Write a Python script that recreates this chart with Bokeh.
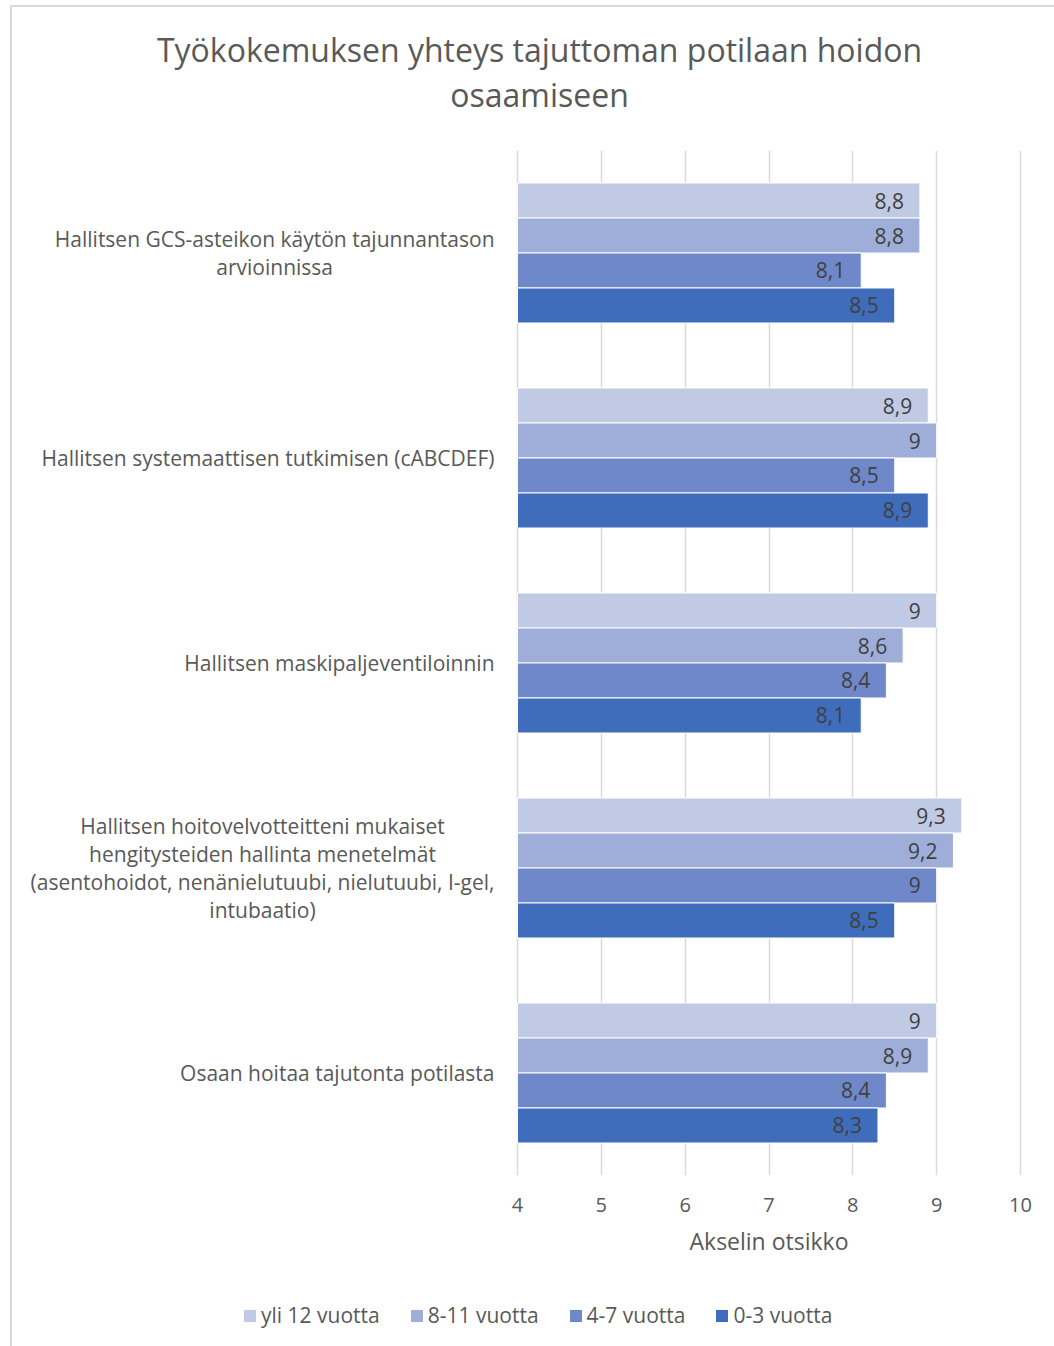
from bokeh.plotting import figure
from bokeh.layouts import column
from bokeh.models import (FactorRange, Range1d, ColumnDataSource, Legend, LegendItem,
                          FixedTicker, Title)
from bokeh.core.properties import value
from bokeh.transform import dodge
from bokeh.embed import file_html
from bokeh.resources import INLINE

# Statements (top to bottom) and experience groups
categories = [
    "Hallitsen GCS-asteikon käytön tajunnantason\narvioinnissa",
    "Hallitsen systemaattisen tutkimisen (cABCDEF)",
    "Hallitsen maskipaljeventiloinnin",
    "Hallitsen hoitovelvotteitteni mukaiset\nhengitysteiden hallinta menetelmät\n(asentohoidot, nenänielutuubi, nielutuubi, I-gel,\nintubaatio)",
    "Osaan hoitaa tajutonta potilasta",
]
series_names = ["yli 12 vuotta", "8-11 vuotta", "4-7 vuotta", "0-3 vuotta"]
series_colors = ["#C1CAE5", "#9FAED9", "#6E88CA", "#3F6DBB"]

yli_12 = [8.8, 8.9, 9.0, 9.3, 9.0]
v_8_11 = [8.8, 9.0, 8.6, 9.2, 8.9]
v_4_7 = [8.1, 8.5, 8.4, 9.0, 8.4]
v_0_3 = [8.5, 8.9, 8.1, 8.5, 8.3]
series_values = [yli_12, v_8_11, v_4_7, v_0_3]

x_ticks = [4, 5, 6, 7, 8, 9, 10]

title_text = "Työkokemuksen yhteys tajuttoman potilaan hoidon\nosaamiseen"
axis_title = "Akselin otsikko"

FONT = "Open Sans"
GREY = "#595959"
W = 1042


def bare(fig):
    fig.outline_line_color = None
    fig.background_fill_color = "white"
    fig.border_fill_color = "white"
    return fig


# --- title strip -----------------------------------------------------------
head = bare(figure(width=W, height=133, output_backend="svg", toolbar_location=None,
                   x_range=Range1d(0, 1), y_range=Range1d(0, 133),
                   x_axis_type=None, y_axis_type=None,
                   min_border=0, min_border_left=0, min_border_right=0,
                   min_border_top=0, min_border_bottom=0))
head.xgrid.visible = False
head.ygrid.visible = False
head.text(x=[0.5], y=[68.5], text=[title_text], text_align="center", anchor="center",
          text_line_height=1.05, text_font=value(FONT), text_font_size="32px",
          text_color=GREY)

# --- bar chart ------------------------------------------------------------
# The frame also holds the statement texts to the left of the value axis,
# so the x range runs below 4 and a little past 10.
p = bare(figure(width=W, height=1150, output_backend="svg", toolbar_location=None,
                y_range=FactorRange(factors=list(reversed(categories))),
                x_range=Range1d(-1.881, 10.4056),
                min_border_left=12, min_border_right=0, min_border_top=10,
                min_border_bottom=115))

bar_h = 0.1707
offsets = [1.5 * bar_h, 0.5 * bar_h, -0.5 * bar_h, -1.5 * bar_h]


def fmt(v):
    return f"{v:g}".replace(".", ",")


for name, color, vals, off in zip(series_names, series_colors, series_values, offsets):
    src = ColumnDataSource(dict(cat=categories, val=vals, lbl=[fmt(v) for v in vals],
                                left=[x_ticks[0]] * len(vals)))
    p.hbar(y=dodge("cat", off, range=p.y_range), left="left", right="val", height=bar_h,
           source=src, fill_color=color, line_color="white", line_width=1)
    p.text(x="val", y=dodge("cat", off, range=p.y_range), text="lbl", source=src,
           x_offset=-16, text_align="right", text_baseline="middle",
           text_font=value(FONT), text_font_size="21px", text_color="#404040")

# statement texts, right-aligned against the value axis start, lines centred
cat_src = ColumnDataSource(dict(cat=categories, x=[x_ticks[0]] * len(categories)))
p.text(x="x", y="cat", text="cat", source=cat_src, x_offset=-23,
       text_align="center", anchor="center_right", text_line_height=1.01,
       text_font=value(FONT), text_font_size="21px", text_color=GREY)

xa = p.xaxis[0]
xa.ticker = FixedTicker(ticks=x_ticks)
xa.axis_line_color = None
xa.major_tick_line_color = None
xa.minor_tick_line_color = None
xa.major_label_text_font = FONT
xa.major_label_text_font_size = "20px"
xa.major_label_text_color = GREY
xa.major_label_standoff = 16

p.yaxis.visible = False

p.xgrid.ticker = FixedTicker(ticks=x_ticks)
p.xgrid.grid_line_color = "#D9D9D9"
p.xgrid.grid_line_width = 1.5
p.ygrid.grid_line_color = None

# value axis title, centred over the 4..10 span
p.add_layout(Title(text=axis_title, align="left", offset=665, standoff=17,
                   text_font=FONT, text_font_size="23px", text_font_style="normal",
                   text_color=GREY), "below")

# --- legend strip ---------------------------------------------------------
foot = bare(figure(width=W, height=56, output_backend="svg", toolbar_location=None,
                   x_range=Range1d(0, 1), y_range=Range1d(0, 1),
                   x_axis_type=None, y_axis_type=None,
                   min_border_left=0, min_border_right=0, min_border_top=0,
                   min_border_bottom=0))
foot.xgrid.visible = False
foot.ygrid.visible = False
items = []
for name, color in zip(series_names, series_colors):
    # zero-size key bars, only used for the legend swatches
    r = foot.hbar(y=[0], left=[0], right=[0], height=0, fill_color=color, line_color=None)
    items.append(LegendItem(label=name, renderers=[r]))
legend = Legend(items=items, orientation="horizontal", location=(218, 17),
                glyph_width=15, glyph_height=15, label_standoff=4, spacing=29,
                label_height=22, label_text_font=FONT, label_text_font_size="21px",
                label_text_color=GREY, border_line_color=None,
                background_fill_alpha=0, padding=0, margin=0)
foot.add_layout(legend)

page = column(head, p, foot, spacing=0)
page.margin = (5, 0, 0, 10)
page.styles = {"border-top": "2px solid #D9D9D9", "border-left": "2px solid #D9D9D9"}

open("out.html", "w").write(file_html(page, INLINE))
